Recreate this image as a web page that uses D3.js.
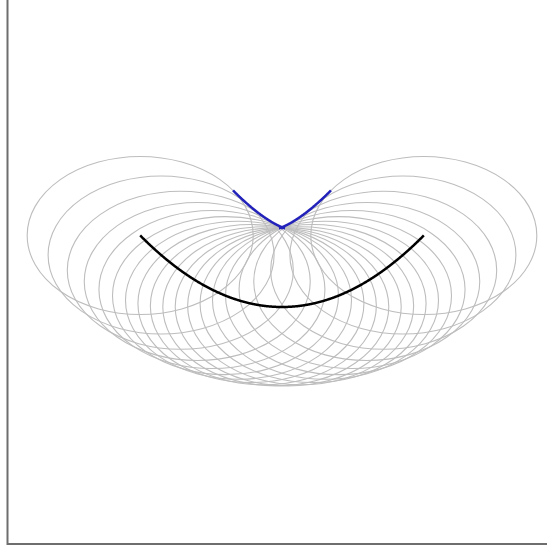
<!DOCTYPE html>
<html>
<head>
<meta charset="utf-8">
<script src="https://cdn.jsdelivr.net/npm/d3@7"></script>
<style>
  body { margin: 0; background: #fff; }
  svg { display: block; }
</style>
</head>
<body>
<div id="chart"></div>
<script>
// parabola v = k*u^2 for u in [uMin, uMax], circles of radius r centred on it
const parabolaK = [0.575];
const parabolaRange = [-1.255, 1.255];
const circleRadius = [1];
const circleCentersU = [-1.255, -1.07, -0.90, -0.75, -0.62, -0.50, -0.385, -0.275, -0.165, -0.055,
                        0.055, 0.165, 0.275, 0.385, 0.50, 0.62, 0.75, 0.90, 1.07, 1.255];

const width = 547, height = 548;
const k = parabolaK[0], r = circleRadius[0];

const svg = d3.select("#chart").append("svg")
    .attr("width", width)
    .attr("height", height);

const xScale = d3.scaleLinear().domain([0, 1]).range([282, 395]);
const yScale = d3.scaleLinear().domain([0, 1]).range([307, 228]);
const sx = xScale(1) - xScale(0);
const sy = yScale(0) - yScale(1);

// frame
svg.append("rect")
    .attr("x", 7.5).attr("y", -10)
    .attr("width", 560).attr("height", 554)
    .attr("fill", "none")
    .attr("stroke", "#6e6e6e")
    .attr("stroke-width", 2);

// circles (ellipses on screen because of unequal axis units)
svg.append("g").attr("class", "circlesG")
    .selectAll("ellipse")
    .data(circleCentersU)
    .join("ellipse")
    .attr("cx", u => xScale(u))
    .attr("cy", u => yScale(k * u * u))
    .attr("rx", r * sx)
    .attr("ry", r * sy)
    .attr("fill", "none")
    .attr("stroke", "#bdbdbd")
    .attr("stroke-width", 1.1);

const ts = d3.range(0, 601).map(i => parabolaRange[0] + (parabolaRange[1] - parabolaRange[0]) * i / 600);

const line = d3.line().x(d => xScale(d[0])).y(d => yScale(d[1]));

// inner parallel curve
const inner = ts.map(t => {
    const s = Math.sqrt(1 + 4 * k * k * t * t);
    return [t - r * 2 * k * t / s, k * t * t + r / s];
});

// parabola
svg.append("path")
    .datum(ts.map(t => [t, k * t * t]))
    .attr("d", line)
    .attr("fill", "none")
    .attr("stroke", "#000")
    .attr("stroke-width", 2.5);

svg.append("path")
    .datum(inner)
    .attr("d", line)
    .attr("fill", "none")
    .attr("stroke", "#2222bb")
    .attr("stroke-width", 2.5);
</script>
</body>
</html>
